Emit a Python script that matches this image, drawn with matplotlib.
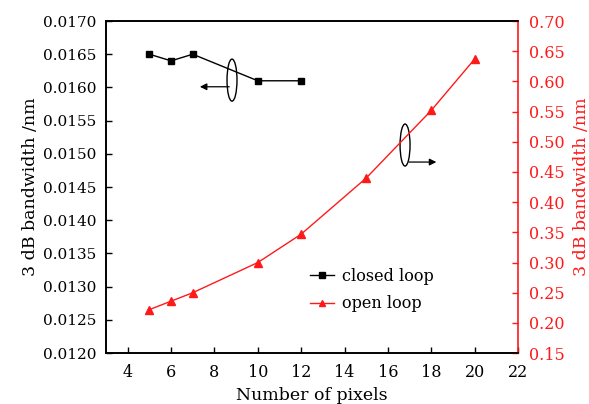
import matplotlib
matplotlib.use("Agg")
import matplotlib.pyplot as plt
from matplotlib.patches import Ellipse
from matplotlib.lines import Line2D

plt.rcParams['font.family'] = ['DejaVu Serif']
plt.rcParams['font.size'] = 11

closed_x = [5, 6, 7, 10, 12]
closed_y = [0.0165, 0.0164, 0.0165, 0.0161, 0.0161]
open_x = [5, 6, 7, 10, 12, 15, 18, 20]
open_y = [0.222, 0.236, 0.250, 0.300, 0.347, 0.440, 0.552, 0.637]

x_ticks = [4, 6, 8, 10, 12, 14, 16, 18, 20, 22]
left_ticks = [0.0120, 0.0125, 0.0130, 0.0135, 0.0140, 0.0145, 0.0150, 0.0155, 0.0160, 0.0165, 0.0170]
right_ticks = [0.15, 0.20, 0.25, 0.30, 0.35, 0.40, 0.45, 0.50, 0.55, 0.60, 0.65, 0.70]

red = '#ff1a1a'

fig = plt.figure(figsize=(5.89, 4.04), dpi=100)
ax = fig.add_axes([0.18, 0.126, 0.6995, 0.822])
ax2 = ax.twinx()

ax.plot(closed_x, closed_y, color='black', lw=1.0, marker='s', ms=5)
ax2.plot(open_x, open_y, color=red, lw=1.0, marker='^', ms=6)

ax.set_xlim(3, 22)
ax.set_ylim(0.0120, 0.0170)
ax2.set_ylim(0.15, 0.70)
ax.set_xticks(x_ticks)
ax.set_yticks(left_ticks)
ax.set_yticklabels([f"{v:.4f}" for v in left_ticks])
ax2.set_yticks(right_ticks)
ax2.set_yticklabels([f"{v:.2f}" for v in right_ticks])

ax.tick_params(axis='x', direction='in', length=4, width=1, pad=8, labelsize=11.5)
ax.tick_params(axis='y', direction='in', length=4, width=1, pad=7, labelsize=11)
ax.tick_params(top=False, right=False)
ax2.tick_params(direction='in', length=4, width=1, colors=red, pad=8, labelsize=11.5)
ax.set_xlabel("Number of pixels", fontsize=12.5, labelpad=4)
ax.set_ylabel("3 dB bandwidth /nm", fontsize=12.5, labelpad=3)
ax2.set_ylabel("3 dB bandwidth /nm", color=red, fontsize=12.5, labelpad=6)
for s in ['left', 'bottom', 'top']:
    ax.spines[s].set_linewidth(1.2)
    ax2.spines[s].set_linewidth(1.2)
ax2.spines['right'].set_color(red)
ax2.spines['right'].set_linewidth(1.2)
ax.spines['right'].set_visible(False)

# annotations
e1 = Ellipse((8.81, 0.01611), 0.46, 0.000633, fill=False, ec='black', lw=1.0)
ax.add_patch(e1)
ax.annotate('', xy=(7.2, 0.01601), xytext=(8.81, 0.01601),
            arrowprops=dict(arrowstyle='-|>', color='black', lw=0.9, mutation_scale=10))
e2 = Ellipse((16.79, 0.4946), 0.46, 0.0696, fill=False, ec='black', lw=1.0)
ax2.add_patch(e2)
ax2.annotate('', xy=(18.36, 0.4664), xytext=(16.85, 0.4664),
             arrowprops=dict(arrowstyle='-|>', color='black', lw=0.9, mutation_scale=10))

h1 = Line2D([], [], color='black', lw=1.0, marker='s', ms=4)
h2 = Line2D([], [], color=red, lw=1.0, marker='^', ms=5)
ax.legend([h1, h2], ['closed loop', 'open loop'], frameon=False,
          loc='upper left', bbox_to_anchor=(0.46, 0.30), handlelength=1.5,
          handletextpad=0.5, labelspacing=0.65, fontsize=11.5)

fig.savefig("out.png", dpi=100)
